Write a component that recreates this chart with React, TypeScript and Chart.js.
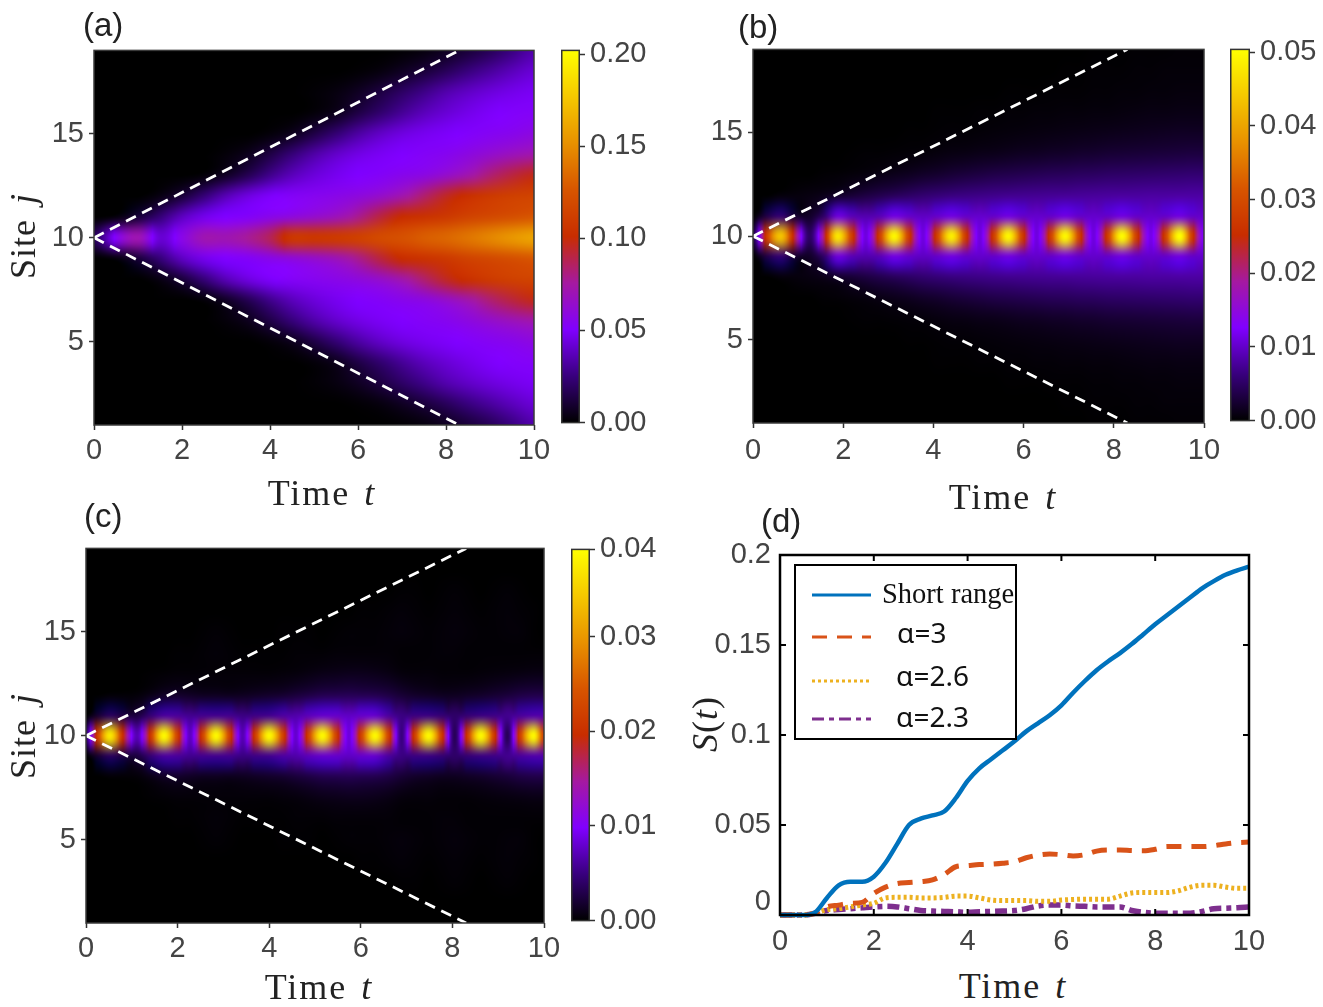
import React, { useEffect, useRef } from "react";
import { Chart, registerables } from "chart.js";

Chart.register(...registerables);

// ---------- axis and tick values ----------
const timeTicks = [0, 2, 4, 6, 8, 10];
const siteTicks = [5, 10, 15];
const coneTimes = [0, 8.3];
const coneUpper = [10, 19];
const coneLower = [10, 1];
const sites = [1, 2, 3, 4, 5, 6, 7, 8, 9, 10, 11, 12, 13, 14, 15, 16, 17, 18, 19];

// ---------- panel (a): units of 0.001, sites 10..19 (the picture is mirror-symmetric about site 10) ----------
const timesA = [0, 0.5, 1, 1.5, 2, 2.5, 3, 3.5, 4, 4.5, 5, 5.5, 6, 6.5, 7, 7.5, 8, 8.5, 9, 9.5, 10];
const a19 = [0, 0, 0, 0, 0, 0, 0, 0, 0, 0, 0, 0, 0, 0, 1, 3, 7, 12, 18, 26, 34];
const a18 = [0, 0, 0, 0, 0, 0, 0, 0, 0, 0, 0, 0, 1, 3, 7, 12, 18, 25, 31, 37, 42];
const a17 = [0, 0, 0, 0, 0, 0, 0, 0, 0, 0, 1, 3, 7, 13, 20, 27, 34, 39, 43, 46, 48];
const a16 = [0, 0, 0, 0, 0, 0, 0, 0, 0, 0, 2, 6, 14, 22, 30, 37, 42, 46, 49, 51, 52];
const a15 = [0, 0, 0, 0, 0, 0, 0, 0, 2, 6, 14, 23, 32, 39, 44, 47, 49, 51, 53, 55, 58];
const a14 = [0, 0, 0, 0, 0, 0, 2, 6, 14, 24, 33, 40, 45, 48, 50, 52, 54, 58, 63, 68, 72];
const a13 = [0, 0, 0, 0, 0, 2, 8, 17, 28, 37, 43, 47, 50, 52, 55, 58, 64, 72, 82, 90, 96];
const a12 = [0, 0, 0, 4, 12, 24, 36, 44, 49, 52, 54, 56, 59, 64, 72, 83, 94, 102, 108, 112, 114];
const a11 = [0, 3, 12, 24, 38, 46, 50, 52, 56, 60, 64, 69, 78, 90, 100, 104, 108, 114, 118, 122, 126];
const a10 = [18, 52, 70, 42, 56, 70, 70, 76, 86, 106, 106, 108, 112, 118, 122, 128, 132, 138, 145, 152, 158];
const rowsA = [a19, a18, a17, a16, a15, a14, a13, a12, a11, a10, a11, a12, a13, a14, a15, a16, a17, a18, a19];

// ---------- panel (b): units of 0.0001 ----------
const timesB = [0, 0.31, 0.62, 0.93, 1.25, 1.56, 1.87, 2.19, 2.5, 2.81, 3.13, 3.45, 3.77, 4.08, 4.4, 4.71, 5.03, 5.34, 5.66, 5.97, 6.29, 6.6, 6.92, 7.24, 7.55, 7.87, 8.18, 8.5, 8.82, 9.14, 9.46, 9.73, 10];
const b19 = [0, 0, 0, 0, 0, 0, 0, 0, 0, 0, 0, 0, 0, 0, 0, 0, 0, 0, 0, 0, 0, 0, 0, 0, 1, 1, 1, 2, 2, 2, 3, 3, 3];
const b18 = [0, 0, 0, 0, 0, 0, 0, 0, 0, 0, 0, 0, 0, 0, 0, 0, 0, 0, 0, 0, 0, 0, 1, 1, 2, 2, 2, 3, 3, 4, 4, 4, 4];
const b17 = [0, 0, 0, 0, 0, 0, 0, 0, 0, 0, 0, 0, 0, 0, 0, 0, 0, 0, 1, 1, 1, 2, 2, 2, 3, 3, 4, 4, 5, 5, 6, 6, 6];
const b16 = [0, 0, 0, 0, 0, 0, 0, 0, 0, 0, 0, 0, 0, 1, 1, 1, 2, 2, 3, 3, 4, 4, 5, 5, 6, 6, 7, 8, 9, 9, 10, 10, 10];
const b15 = [0, 0, 0, 0, 0, 0, 0, 0, 0, 0, 0, 1, 1, 2, 3, 3, 4, 5, 6, 7, 8, 9, 10, 11, 12, 13, 14, 15, 16, 17, 18, 18, 18];
const b14 = [0, 0, 0, 0, 0, 0, 0, 1, 2, 2, 3, 4, 5, 7, 9, 10, 12, 13, 15, 17, 18, 20, 21, 23, 24, 26, 27, 28, 29, 30, 31, 32, 32];
const b13 = [0, 0, 0, 0, 0, 2, 3, 5, 7, 10, 13, 16, 20, 23, 27, 30, 33, 36, 38, 40, 42, 44, 45, 47, 48, 50, 51, 52, 53, 54, 55, 56, 56];
const b12 = [0, 0, 5, 6, 8, 12, 20, 26, 32, 38, 44, 49, 54, 58, 62, 64, 66, 68, 70, 71, 72, 73, 74, 75, 76, 77, 78, 78, 79, 79, 80, 80, 80];
const b11 = [0, 35, 55, 25, 20, 50, 105, 90, 85, 90, 110, 100, 95, 100, 110, 100, 100, 100, 110, 100, 100, 100, 110, 100, 100, 100, 110, 100, 100, 100, 110, 100, 100];
const b10 = [30, 280, 430, 220, 50, 200, 470, 280, 110, 280, 490, 280, 110, 280, 480, 275, 110, 280, 490, 280, 110, 280, 490, 280, 110, 280, 495, 280, 115, 280, 500, 280, 120];
const rowsB = [b19, b18, b17, b16, b15, b14, b13, b12, b11, b10, b11, b12, b13, b14, b15, b16, b17, b18, b19];

// ---------- panel (c): units of 0.0001 ----------
const timesC = [0, 0.27, 0.53, 0.82, 1.12, 1.41, 1.7, 1.98, 2.27, 2.55, 2.84, 3.13, 3.42, 3.71, 4, 4.29, 4.58, 4.87, 5.16, 5.45, 5.74, 6.02, 6.31, 6.6, 6.89, 7.18, 7.48, 7.76, 8.05, 8.33, 8.62, 8.91, 9.2, 9.48, 9.77, 10];
const c19 = [0, 0, 0, 0, 0, 0, 0, 0, 0, 0, 0, 0, 0, 0, 0, 0, 0, 0, 0, 0, 0, 0, 0, 0, 0, 0, 0, 0, 0, 0, 0, 0, 0, 0, 0, 0];
const c18 = [0, 0, 0, 0, 0, 0, 0, 0, 0, 0, 0, 0, 0, 0, 0, 0, 0, 0, 0, 0, 0, 0, 0, 0, 0, 0, 0, 0, 0, 0, 0, 0, 0, 0, 0, 0];
const c17 = [0, 0, 0, 0, 0, 0, 0, 0, 0, 0, 0, 0, 0, 0, 0, 0, 0, 0, 0, 0, 0, 0, 0, 0, 1, 1, 0, 1, 2, 1, 0, 1, 2, 1, 0, 0];
const c16 = [0, 0, 0, 0, 0, 0, 0, 0, 0, 0, 0, 0, 0, 0, 0, 0, 0, 0, 0, 0, 0, 1, 1, 2, 3, 2, 1, 2, 3, 2, 1, 2, 3, 2, 1, 0];
const c15 = [0, 0, 0, 0, 0, 0, 0, 0, 0, 1, 2, 1, 0, 0, 0, 1, 1, 1, 0, 1, 2, 2, 2, 3, 4, 3, 2, 3, 4, 3, 2, 2, 3, 3, 1, 0];
const c14 = [0, 0, 0, 0, 0, 0, 0, 1, 1, 2, 3, 2, 1, 1, 1, 1, 2, 2, 2, 3, 3, 3, 3, 3, 2, 2, 2, 3, 3, 2, 2, 2, 2, 2, 2, 2];
const c13 = [0, 0, 0, 0, 0, 1, 2, 3, 3, 3, 3, 3, 3, 3, 3, 4, 5, 7, 9, 10, 11, 11, 10, 8, 5, 4, 4, 3, 3, 3, 4, 5, 6, 7, 8, 8];
const c12 = [0, 0, 2, 2, 3, 8, 14, 16, 14, 12, 12, 11, 12, 14, 16, 18, 22, 26, 30, 31, 32, 31, 30, 26, 20, 16, 14, 12, 12, 14, 16, 19, 22, 26, 28, 28];
const c11 = [0, 20, 35, 25, 25, 45, 60, 60, 55, 55, 55, 55, 50, 52, 55, 62, 65, 72, 78, 78, 75, 78, 78, 62, 50, 50, 50, 45, 40, 45, 50, 52, 55, 60, 65, 65];
const c10 = [40, 230, 370, 190, 70, 210, 385, 230, 75, 225, 385, 225, 70, 225, 385, 230, 80, 230, 385, 230, 85, 230, 385, 225, 50, 220, 385, 220, 35, 215, 385, 215, 35, 220, 385, 220];
const rowsC = [c19, c18, c17, c16, c15, c14, c13, c12, c11, c10, c11, c12, c13, c14, c15, c16, c17, c18, c19];

// ---------- panel (d) ----------
const timeD = [0, 0.25, 0.5, 0.75, 1, 1.25, 1.5, 1.75, 2, 2.25, 2.5, 2.75, 3, 3.25, 3.5, 3.75, 4, 4.25, 4.5, 4.75, 5, 5.25, 5.5, 5.75, 6, 6.25, 6.5, 6.75, 7, 7.25, 7.5, 7.75, 8, 8.25, 8.5, 8.75, 9, 9.25, 9.5, 9.75, 10];
const shortRange = [0, 0, 0, 0.0015, 0.0095, 0.0165, 0.0185, 0.0185, 0.0213, 0.029, 0.0395, 0.05, 0.0535, 0.0553, 0.0575, 0.065, 0.0745, 0.0815, 0.0865, 0.0915, 0.0965, 0.102, 0.1065, 0.111, 0.1165, 0.1235, 0.13, 0.136, 0.141, 0.1455, 0.1505, 0.156, 0.1615, 0.1665, 0.1715, 0.1765, 0.1815, 0.1855, 0.189, 0.1915, 0.1935];
const alpha3 = [0, 0, 0, 0.001, 0.0045, 0.0055, 0.0065, 0.007, 0.012, 0.0155, 0.0175, 0.018, 0.0185, 0.0195, 0.0225, 0.0268, 0.0275, 0.028, 0.0283, 0.0288, 0.0296, 0.0318, 0.0333, 0.0339, 0.0335, 0.0328, 0.0335, 0.0355, 0.0361, 0.0361, 0.0358, 0.0357, 0.0365, 0.038, 0.038, 0.038, 0.038, 0.0385, 0.0395, 0.0402, 0.0405];
const alpha26 = [0, 0, 0, 0.001, 0.003, 0.0035, 0.0045, 0.0055, 0.0065, 0.0095, 0.0098, 0.0098, 0.0095, 0.0095, 0.0098, 0.0105, 0.0105, 0.0095, 0.0083, 0.008, 0.008, 0.008, 0.0076, 0.0076, 0.0083, 0.0086, 0.0088, 0.0088, 0.0088, 0.0105, 0.0122, 0.0125, 0.0125, 0.0125, 0.0135, 0.0155, 0.0165, 0.0165, 0.0155, 0.0148, 0.0148];
const alpha23 = [0, 0, 0, 0.001, 0.0025, 0.003, 0.0035, 0.004, 0.0045, 0.0048, 0.0045, 0.0035, 0.0025, 0.0022, 0.002, 0.0018, 0.0015, 0.0018, 0.002, 0.0022, 0.0025, 0.0035, 0.005, 0.0055, 0.0055, 0.005, 0.0048, 0.0045, 0.0045, 0.0045, 0.0025, 0.0015, 0.001, 0.001, 0.001, 0.001, 0.002, 0.0035, 0.0038, 0.004, 0.0045];
const seriesLabels = ["Short range", "α=3", "α=2.6", "α=2.3"];
const yTicksD = [0, 0.05, 0.1, 0.15, 0.2];

// ---------- colour map ----------
const cmapStops: [number, number[]][] = [
  [0, [0, 0, 0]],
  [0.125, [56, 0, 125]],
  [0.25, [128, 0, 255]],
  [0.375, [165, 25, 160]],
  [0.5, [200, 45, 0]],
  [0.625, [215, 85, 0]],
  [0.75, [232, 145, 0]],
  [0.875, [245, 200, 0]],
  [1, [255, 255, 0]],
];

function cmap(v: number): number[] {
  const u = Math.min(1, Math.max(0, v));
  for (let i = 1; i < cmapStops.length; i++) {
    if (u <= cmapStops[i][0]) {
      const [a, ca] = cmapStops[i - 1];
      const [b, cb] = cmapStops[i];
      const f = (u - a) / (b - a);
      return [0, 1, 2].map((k) => ca[k] + (cb[k] - ca[k]) * f);
    }
  }
  return cmapStops[cmapStops.length - 1][1];
}

const catmull = (p0: number, p1: number, p2: number, p3: number, t: number) =>
  0.5 * (2 * p1 + (p2 - p0) * t + (2 * p0 - 5 * p1 + 4 * p2 - p3) * t * t + (-p0 + 3 * p1 - 3 * p2 + p3) * t * t * t);

const TICK_FONT = { family: "'Liberation Sans', Arial, sans-serif", size: 29 };
const TICK_COLOR = "#444";
const M = { left: 80, right: 30, top: 20, bottom: 50 };

// paints the heat map from the scatter dataset's cells, through the chart's scales:
// values are interpolated along time, colours are blended between sites
function heatPlugin(times: number[], unit: number, vmax: number) {
  return {
    id: "heat",
    beforeDatasetsDraw(chart: any) {
      const { ctx, chartArea: ca, scales } = chart;
      const w = Math.round(ca.right - ca.left);
      const h = Math.round(ca.bottom - ca.top);
      const cells = chart.data.datasets[0].data;
      const nc = times.length;
      const nr = cells.length / nc;
      const siteList = Array.from({ length: nr }, (_, j) => cells[j * nc].y);
      const val = (i: number, j: number) => {
        const ii = Math.max(0, Math.min(nc - 1, i));
        const jj = Math.max(0, Math.min(nr - 1, j));
        return cells[jj * nc + ii].v;
      };
      const off = document.createElement("canvas");
      off.width = w;
      off.height = h;
      const oc = off.getContext("2d")!;
      const img = oc.createImageData(w, h);
      const frac = (arr: number[], x: number) => {
        let k = 0;
        while (k < arr.length - 2 && x > arr[k + 1]) k++;
        return k + (x - arr[k]) / (arr[k + 1] - arr[k]);
      };
      for (let py = 0; py < h; py++) {
        const site = scales.y.getValueForPixel(ca.top + py + 0.5);
        const fy = frac(siteList, site);
        const j = Math.floor(fy);
        const ty = Math.max(0, Math.min(1, fy - j));
        for (let px = 0; px < w; px++) {
          const t = scales.x.getValueForPixel(ca.left + px + 0.5);
          const fx = frac(times, t);
          const i = Math.floor(fx);
          const tx = Math.max(0, Math.min(1, fx - i));
          const rgb = [-1, 0, 1, 2].map((d) => {
            const v = Math.max(0, catmull(val(i - 1, j + d), val(i, j + d), val(i + 1, j + d), val(i + 2, j + d), tx));
            return cmap((v * unit) / vmax);
          });
          const o = (py * w + px) * 4;
          for (let k = 0; k < 3; k++) {
            img.data[o + k] = catmull(rgb[0][k], rgb[1][k], rgb[2][k], rgb[3][k], ty);
          }
          img.data[o + 3] = 255;
        }
      }
      oc.putImageData(img, 0, 0);
      ctx.drawImage(off, ca.left, ca.top);
    },
    afterDatasetsDraw(chart: any) {
      const { ctx, chartArea: ca } = chart;
      ctx.save();
      ctx.strokeStyle = "#3a3a3a";
      ctx.lineWidth = 1.5;
      ctx.strokeRect(ca.left, ca.top, ca.right - ca.left, ca.bottom - ca.top);
      ctx.restore();
    },
  };
}

function HeatMap({ box, times, rows, unit, vmax, xPad = 4 }: any) {
  const ref = useRef<HTMLCanvasElement>(null);
  useEffect(() => {
    const cells: any[] = [];
    rows.forEach((row: number[], j: number) =>
      row.forEach((v: number, i: number) => cells.push({ x: times[i], y: sites[j], v }))
    );
    const chart = new Chart(ref.current!, {
      type: "scatter",
      data: {
        datasets: [
          { label: "cells", data: cells, pointRadius: 0, showLine: false },
          {
            label: "upper cone",
            data: coneTimes.map((x, i) => ({ x, y: coneUpper[i] })),
            showLine: true, pointRadius: 0, borderColor: "#fff", borderWidth: 2.8, borderDash: [11, 7],
          },
          {
            label: "lower cone",
            data: coneTimes.map((x, i) => ({ x, y: coneLower[i] })),
            showLine: true, pointRadius: 0, borderColor: "#fff", borderWidth: 2.8, borderDash: [11, 7],
          },
        ],
      },
      options: {
        animation: false,
        responsive: false,
        devicePixelRatio: 1,
        layout: { padding: { top: M.top, right: M.right, left: 0, bottom: 0 } },
        plugins: { legend: { display: false }, tooltip: { enabled: false } },
        scales: {
          x: {
            type: "linear", min: 0, max: 10,
            afterBuildTicks: (s: any) => { s.ticks = timeTicks.map((value) => ({ value })); },
            afterFit: (s: any) => { s.height = M.bottom; },
            grid: { drawOnChartArea: false, tickLength: 5, tickColor: "#333", tickWidth: 1.5 },
            border: { display: false },
            ticks: { font: TICK_FONT, color: TICK_COLOR, padding: xPad, maxRotation: 0, autoSkip: false, includeBounds: false },
          },
          y: {
            type: "linear", min: 1, max: 19,
            afterBuildTicks: (s: any) => { s.ticks = siteTicks.map((value) => ({ value })); },
            afterFit: (s: any) => { s.width = M.left; },
            grid: { drawOnChartArea: false, tickLength: 5, tickColor: "#333", tickWidth: 1.5 },
            border: { display: false },
            ticks: { font: TICK_FONT, color: TICK_COLOR, padding: 5, autoSkip: false },
          },
        },
      } as any,
      plugins: [heatPlugin(times, unit, vmax)],
    });
    return () => chart.destroy();
  }, []);
  return (
    <canvas
      ref={ref}
      width={box.r - box.l + M.left + M.right}
      height={box.b - box.t + M.top + M.bottom}
      style={{ position: "absolute", left: box.l - M.left, top: box.t - M.top, display: "block" }}
    />
  );
}

function ColorBar({ box, vmax, ticks, tickLabels }: any) {
  const ref = useRef<HTMLCanvasElement>(null);
  const padR = 80;
  useEffect(() => {
    const chart = new Chart(ref.current!, {
      type: "bar",
      data: {
        labels: ["scale"],
        datasets: [
          {
            label: "colour scale",
            data: [vmax],
            barPercentage: 1,
            categoryPercentage: 1,
            backgroundColor: (ctx: any) => {
              const a = ctx.chart.chartArea;
              if (!a) return "#000";
              const g = ctx.chart.ctx.createLinearGradient(0, a.bottom, 0, a.top);
              cmapStops.forEach(([p, c]) => g.addColorStop(p, `rgb(${c[0]},${c[1]},${c[2]})`));
              return g;
            },
          },
        ],
      },
      options: {
        animation: false,
        responsive: false,
        devicePixelRatio: 1,
        layout: { padding: { top: M.top, bottom: M.top, left: 0, right: 0 } },
        plugins: { legend: { display: false }, tooltip: { enabled: false } },
        scales: {
          x: { display: false },
          y: {
            position: "right", min: 0, max: vmax,
            afterBuildTicks: (s: any) => { s.ticks = ticks.map((value: number) => ({ value })); },
            afterFit: (s: any) => { s.width = padR; },
            grid: { drawOnChartArea: false, tickLength: 5, tickColor: "#333", tickWidth: 1.5 },
            border: { display: false },
            ticks: {
              font: TICK_FONT, color: TICK_COLOR, padding: 5, autoSkip: false,
              callback: (_: any, i: number) => tickLabels[i],
            },
          },
        },
      } as any,
      plugins: [
        {
          id: "cbframe",
          afterDatasetsDraw(c: any) {
            const { ctx, chartArea: a } = c;
            ctx.save();
            ctx.strokeStyle = "#333";
            ctx.lineWidth = 1.5;
            ctx.strokeRect(a.left + 0.75, a.top, a.right - a.left - 1.5, a.bottom - a.top);
            ctx.restore();
          },
        },
      ],
    });
    return () => chart.destroy();
  }, []);
  return (
    <canvas
      ref={ref}
      width={box.r - box.l + padR}
      height={box.b - box.t + 2 * M.top}
      style={{ position: "absolute", left: box.l, top: box.t - M.top, display: "block" }}
    />
  );
}

const legendPlugin = {
  id: "lines",
  afterDatasetsDraw(chart: any, _a: any, opts: any) {
    const { ctx, chartArea: a, scales } = chart;
    ctx.save();
    ctx.strokeStyle = "#000";
    ctx.lineWidth = 2.5;
    ctx.strokeRect(a.left, a.top, a.right - a.left, a.bottom - a.top);
    ctx.lineWidth = 2;
    scales.x.ticks.forEach((t: any) => {
      const p = scales.x.getPixelForValue(t.value);
      ctx.beginPath();
      ctx.moveTo(p, a.bottom); ctx.lineTo(p, a.bottom - 6);
      ctx.moveTo(p, a.top); ctx.lineTo(p, a.top + 6);
      ctx.stroke();
    });
    scales.y.ticks.forEach((t: any) => {
      const p = scales.y.getPixelForValue(t.value);
      ctx.beginPath();
      ctx.moveTo(a.left, p); ctx.lineTo(a.left + 6, p);
      ctx.moveTo(a.right, p); ctx.lineTo(a.right - 6, p);
      ctx.stroke();
    });
    // legend box, drawn from the datasets' own labels and styles
    const b = opts;
    ctx.lineWidth = 2;
    ctx.strokeRect(a.left + b.x, a.top + b.y, b.w, b.h);
    const ds = chart.data.datasets;
    b.rows.forEach((r: any, i: number) => {
      ctx.beginPath();
      ctx.setLineDash(ds[i].borderDash || []);
      ctx.strokeStyle = ds[i].borderColor;
      ctx.lineWidth = 3;
      ctx.moveTo(a.left + b.x + 17, a.top + r.ly);
      ctx.lineTo(a.left + b.x + 76, a.top + r.ly);
      ctx.stroke();
      ctx.setLineDash([]);
      ctx.fillStyle = "#111";
      ctx.font = r.font;
      ctx.textBaseline = "middle";
      ctx.fillText(ds[i].label, a.left + b.x + r.tx, a.top + r.y);
    });
    ctx.restore();
  },
};

function Curves({ box }: any) {
  const ref = useRef<HTMLCanvasElement>(null);
  const topM = 40;
  useEffect(() => {
    const mk = (label: string, ys: number[], color: string, dash: number[], width: number) => ({
      label,
      data: timeD.map((x, i) => ({ x, y: ys[i] })),
      showLine: true, pointRadius: 0, borderColor: color, borderWidth: width, borderDash: dash,
      cubicInterpolationMode: "monotone", clip: false,
    });
    const chart = new Chart(ref.current!, {
      type: "scatter",
      data: {
        datasets: [
          mk(seriesLabels[0], shortRange, "#0072bd", [], 4.5),
          mk(seriesLabels[1], alpha3, "#d95319", [15, 10], 5),
          mk(seriesLabels[2], alpha26, "#edb120", [3, 3], 5),
          mk(seriesLabels[3], alpha23, "#7e2f8e", [12, 5, 5, 5], 5.5),
        ],
      },
      options: {
        animation: false,
        responsive: false,
        devicePixelRatio: 1,
        layout: { padding: { top: topM, right: M.right, left: 0, bottom: 0 } },
        plugins: {
          legend: { display: false },
          tooltip: { enabled: false },
          lines: {
            x: 15, y: 10, w: 221, h: 174,
            rows: [
              { y: 41, ly: 40, tx: 87, font: "28.5px 'Liberation Serif', serif" },
              { y: 80, ly: 82, tx: 102, font: "28px 'Noto Sans', sans-serif" },
              { y: 123, ly: 126, tx: 101, font: "28px 'Noto Sans', sans-serif" },
              { y: 164, ly: 164, tx: 101, font: "28px 'Noto Sans', sans-serif" },
            ],
          },
        },
        scales: {
          x: {
            type: "linear", min: 0, max: 10,
            afterBuildTicks: (s: any) => { s.ticks = timeTicks.map((value) => ({ value })); },
            afterFit: (s: any) => { s.height = M.bottom; },
            grid: { display: false, drawTicks: false },
            border: { display: false },
            ticks: { font: TICK_FONT, color: TICK_COLOR, padding: 10, maxRotation: 0, autoSkip: false },
          },
          y: {
            type: "linear", min: 0, max: 0.2,
            afterBuildTicks: (s: any) => { s.ticks = yTicksD.map((value) => ({ value })); },
            afterFit: (s: any) => { s.width = M.left; },
            grid: { display: false, drawTicks: false },
            border: { display: false },
            ticks: {
              font: { ...TICK_FONT, lineHeight: 0.9 }, color: TICK_COLOR, padding: 9, autoSkip: false,
              callback: (v: number) => (v === 0 ? ["0", " "] : String(v)),
            },
          },
        },
      } as any,
      plugins: [legendPlugin],
    });
    return () => chart.destroy();
  }, []);
  return (
    <canvas
      ref={ref}
      width={box.r - box.l + M.left + M.right}
      height={box.b - box.t + topM + M.bottom}
      style={{ position: "absolute", left: box.l - M.left, top: box.t - topM, display: "block" }}
    />
  );
}

const panelFont = "'Liberation Sans', Arial, sans-serif";
const serifFont = "'Liberation Serif', serif";

function Tag({ x, y, children }: any) {
  return (
    <div style={{ position: "absolute", left: x, top: y, transform: "translateY(-50%)", font: `33px ${panelFont}`, color: "#222", whiteSpace: "nowrap" }}>
      {children}
    </div>
  );
}

function XTitle({ x, y }: any) {
  return (
    <div style={{ position: "absolute", left: x, top: y, transform: "translate(-50%,-50%)", font: `36px ${serifFont}`, letterSpacing: "2px", wordSpacing: "3px", color: "#222", whiteSpace: "nowrap" }}>
      Time <i>t</i>
    </div>
  );
}

function YTitle({ x, y, children }: any) {
  return (
    <div style={{ position: "absolute", left: x, top: y, transform: "translate(-50%,-50%) rotate(-90deg)", font: `36px ${serifFont}`, letterSpacing: "1px", wordSpacing: "5px", color: "#222", whiteSpace: "nowrap" }}>
      {children}
    </div>
  );
}

export default function App() {
  return (
    <div style={{ position: "absolute", left: 0, top: 0, width: 1323, height: 1007, background: "#fff", overflow: "hidden" }}>
      <HeatMap box={{ l: 94, t: 48, r: 534, b: 425 }} times={timesA} rows={rowsA} unit={0.001} vmax={0.2} />
      <ColorBar box={{ l: 561, t: 48, r: 580, b: 425 }} vmax={0.202} ticks={[0, 0.05, 0.1, 0.15, 0.2]} tickLabels={["0.00", "0.05", "0.10", "0.15", "0.20"]} />
      <HeatMap box={{ l: 753, t: 47, r: 1204, b: 423 }} times={timesB} rows={rowsB} unit={0.0001} vmax={0.05} xPad={6} />
      <ColorBar box={{ l: 1230, t: 47, r: 1250, b: 423 }} vmax={0.0504} ticks={[0, 0.01, 0.02, 0.03, 0.04, 0.05]} tickLabels={["0.00", "0.01", "0.02", "0.03", "0.04", "0.05"]} />
      <HeatMap box={{ l: 86, t: 546, r: 544, b: 923 }} times={timesC} rows={rowsC} unit={0.0001} vmax={0.0392} />
      <ColorBar box={{ l: 571, t: 547, r: 590, b: 923 }} vmax={0.0392} ticks={[0, 0.01, 0.02, 0.03, 0.0392]} tickLabels={["0.00", "0.01", "0.02", "0.03", "0.04"]} />
      <Curves box={{ l: 780, t: 555, r: 1249, b: 915 }} />
      <Tag x={83} y={25}>(a)</Tag>
      <Tag x={738} y={27}>(b)</Tag>
      <Tag x={84} y={516}>(c)</Tag>
      <Tag x={761} y={521}>(d)</Tag>
      <XTitle x={322} y={493} />
      <XTitle x={1003} y={497} />
      <XTitle x={319} y={987} />
      <XTitle x={1013} y={986} />
      <YTitle x={23} y={236}>Site <i>j</i></YTitle>
      <YTitle x={23} y={736}>Site <i>j</i></YTitle>
      <YTitle x={705} y={724}><i>S</i>(<i>t</i>)</YTitle>
    </div>
  );
}
